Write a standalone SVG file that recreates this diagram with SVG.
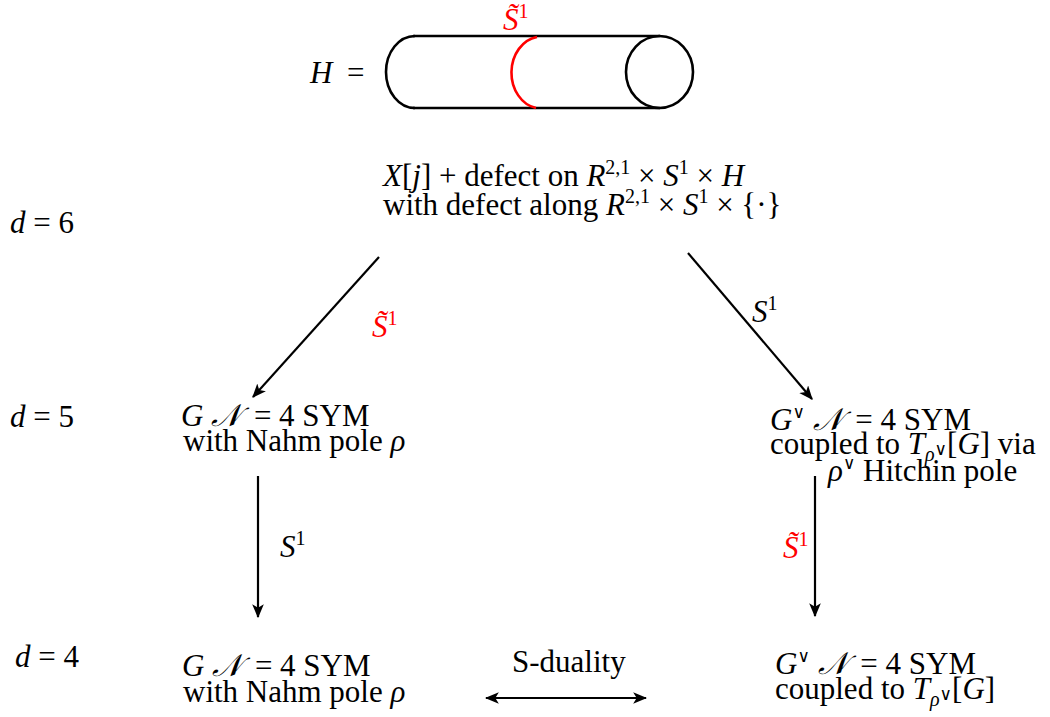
<svg xmlns="http://www.w3.org/2000/svg" width="1050" height="717" viewBox="0 0 1050 717">
<defs>
<style>
text{font-family:"Liberation Serif","DejaVu Serif",serif;font-size:31px;fill:#000}
.mi{font-style:italic}
.sup{font-size:20px}
.vee{font-size:17px}
.red{fill:#ff0000}
.conn line{stroke:#000;stroke-width:2.2;fill:none}
.shape{fill:none;stroke:#000;stroke-width:2.6}
</style>
<marker id="ah" viewBox="0 0 12 10" refX="11" refY="5" markerWidth="14" markerHeight="12" markerUnits="userSpaceOnUse" orient="auto-start-reverse">
<path d="M0,0 L12,5 L0,10 L3,5 z" fill="#000"/>
</marker>
</defs>
<rect width="1050" height="717" fill="#fff"/>

<g id="cylinder">
<text y="83"><tspan class="mi" x="310">H</tspan><tspan x="347">=</tspan></text>
<path class="shape" d="M415,36 A29,36 0 0 0 415,108"/>
<line class="shape" x1="413" y1="36" x2="660" y2="36"/>
<line class="shape" x1="413" y1="108" x2="660" y2="108"/>
<ellipse class="shape" cx="659.5" cy="72" rx="33.5" ry="36"/>
<path d="M537,37 A30,36 0 0 0 536,108" fill="none" stroke="#ff0000" stroke-width="2.6"/>
<text x="503" y="30" class="red"><tspan class="mi">S&#x303;</tspan><tspan class="sup" dy="-12">1</tspan></text>
</g>

<g id="labels-d">
<text x="10" y="233"><tspan class="mi">d</tspan> = 6</text>
<text x="10" y="427"><tspan class="mi">d</tspan> = 5</text>
<text x="15" y="667"><tspan class="mi">d</tspan> = 4</text>
</g>

<g id="node-top">
<text x="383" y="186"><tspan class="mi">X</tspan>[<tspan class="mi">j</tspan>] + defect on <tspan class="mi">R</tspan><tspan class="sup" dy="-12">2,1</tspan><tspan dy="12"> × </tspan><tspan class="mi">S</tspan><tspan class="sup" dy="-12">1</tspan><tspan dy="12"> × </tspan><tspan class="mi">H</tspan></text>
<text x="383" y="215">with defect along <tspan class="mi">R</tspan><tspan class="sup" dy="-12">2,1</tspan><tspan dy="12"> × </tspan><tspan class="mi">S</tspan><tspan class="sup" dy="-12">1</tspan><tspan dy="12"> × {·}</tspan></text>
</g>

<g id="node-5-left">
<text x="181" y="426"><tspan class="mi">G</tspan> <tspan class="mi">𝒩</tspan><tspan dx="5"> = 4 SYM</tspan></text>
<text x="183" y="451">with Nahm pole <tspan class="mi">ρ</tspan></text>
</g>

<g id="node-5-right">
<text x="770" y="430"><tspan class="mi">G</tspan><tspan class="vee" dy="-12">∨</tspan><tspan dy="12"> </tspan><tspan class="mi">𝒩</tspan><tspan dx="5"> = 4 SYM</tspan></text>
<text x="770" y="454">coupled to <tspan class="mi">T</tspan><tspan class="mi sup" dy="7">ρ</tspan><tspan class="vee" font-size="13" dy="-6">∨</tspan><tspan dy="-1">[</tspan><tspan class="mi">G</tspan>] via</text>
<text x="828" y="481"><tspan class="mi">ρ</tspan><tspan class="vee" dy="-12">∨</tspan><tspan dy="12"> Hitchin pole</tspan></text>
</g>

<g id="node-4-left">
<text x="182" y="676"><tspan class="mi">G</tspan> <tspan class="mi">𝒩</tspan><tspan dx="5"> = 4 SYM</tspan></text>
<text x="183" y="702">with Nahm pole <tspan class="mi">ρ</tspan></text>
</g>

<g id="node-4-right">
<text x="775" y="674"><tspan class="mi">G</tspan><tspan class="vee" dy="-12">∨</tspan><tspan dy="12"> </tspan><tspan class="mi">𝒩</tspan><tspan dx="5"> = 4 SYM</tspan></text>
<text x="775" y="699">coupled to <tspan class="mi">T</tspan><tspan class="mi sup" dy="7">ρ</tspan><tspan class="vee" font-size="13" dy="-6">∨</tspan><tspan dy="-1">[</tspan><tspan class="mi">G</tspan>]</text>
</g>

<g class="conn" id="connectors">
<line x1="379" y1="257" x2="253" y2="397" marker-end="url(#ah)"/>
<line x1="688" y1="253" x2="812" y2="399" marker-end="url(#ah)"/>
<line x1="258" y1="476" x2="258" y2="617" marker-end="url(#ah)"/>
<line x1="815" y1="476" x2="815" y2="616" marker-end="url(#ah)"/>
<line x1="486" y1="698" x2="646" y2="698" marker-start="url(#ah)" marker-end="url(#ah)"/>
</g>

<g id="connector-labels">
<text x="372" y="337" class="red"><tspan class="mi">S&#x303;</tspan><tspan class="sup" dy="-12">1</tspan></text>
<text x="752" y="322"><tspan class="mi">S</tspan><tspan class="sup" dy="-12">1</tspan></text>
<text x="280" y="557"><tspan class="mi">S</tspan><tspan class="sup" dy="-12">1</tspan></text>
<text x="783" y="558" class="red"><tspan class="mi">S&#x303;</tspan><tspan class="sup" dy="-12">1</tspan></text>
<text x="512" y="672">S-duality</text>
</g>
</svg>
